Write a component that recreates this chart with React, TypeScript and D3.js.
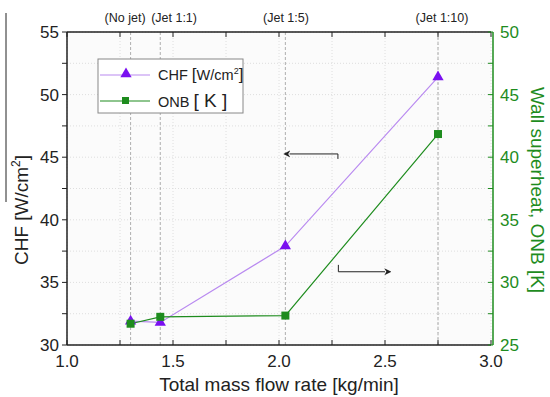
import React from 'react';
import * as d3 from 'd3';

// data
const flowRates = [1.3, 1.44, 2.03, 2.75];
const jetLabels = ['(No jet)', '(Jet 1:1)', '(Jet 1:5)', '(Jet 1:10)'];
const jetLabelPos = [1.274, 1.505, 2.033, 2.769];
const chfValues = [31.9, 31.8, 37.9, 51.4];
const onbValues = [26.7, 27.25, 27.35, 41.85];
const xTicks = [1.0, 1.5, 2.0, 2.5, 3.0];
const leftTicks = [30, 35, 40, 45, 50, 55];
const rightTicks = [25, 30, 35, 40, 45, 50];

const purpleLine = '#b98af0';
const purpleMark = '#7a10f0';
const green = '#1e8c1e';
const font = '"Liberation Sans", Arial, sans-serif';

export default function App() {
  const W = 550, H = 397;
  const m = { left: 67, right: 491, top: 32, bottom: 345 };

  const x = d3.scaleLinear().domain([1, 3]).range([m.left, m.right]);
  const yL = d3.scaleLinear().domain([30, 55]).range([m.bottom, m.top]);
  const yR = d3.scaleLinear().domain([25, 50]).range([m.bottom, m.top]);

  const minorX = d3.range(1, 3.001, 0.25);
  const minorY = d3.range(30, 55.001, 2.5);
  const minorYR = d3.range(25, 50.001, 2.5);

  const chfLine = d3.line<number>().x((d, i) => x(flowRates[i])).y(d => yL(d))(chfValues);
  const onbLine = d3.line<number>().x((d, i) => x(flowRates[i])).y(d => yR(d))(onbValues);
  const tri = d3.symbol().type(d3.symbolTriangle).size(55)();

  return (
    <svg width={W} height={H} style={{ position: 'absolute', left: 0, top: 0, background: '#fff' }} fontFamily={font}>
      <defs>
        <marker id="ah" viewBox="0 0 10 10" refX="1" refY="5" markerWidth="7" markerHeight="7" orient="auto">
          <path d="M0,5 L10,0 L7,5 L10,10 Z" fill="#222" transform="rotate(180 5 5)" />
        </marker>
      </defs>
      <rect x={m.left} y={m.top} width={m.right - m.left} height={m.bottom - m.top} fill="#fbfbfb" />
      {/* grid */}
      {minorX.map(v => (
        <line key={'gx' + v} x1={x(v)} x2={x(v)} y1={m.top} y2={m.bottom} stroke="#dedede" strokeDasharray="1,2" />
      ))}
      {minorY.map(v => (
        <line key={'gy' + v} x1={m.left} x2={m.right} y1={yL(v)} y2={yL(v)} stroke="#dedede" strokeDasharray="1,2" />
      ))}
      {/* jet markers */}
      {flowRates.map(v => (
        <line key={'j' + v} x1={x(v)} x2={x(v)} y1={m.top} y2={m.bottom} stroke="#9a9a9a" strokeDasharray="3,2" strokeWidth={0.8} />
      ))}
      {jetLabels.map((t, i) => (
        <text key={t} x={x(jetLabelPos[i])} y={22} fontSize={12.5} textAnchor="middle" fill="#222">{t}</text>
      ))}
      {/* series */}
      <path d={chfLine || ''} fill="none" stroke={purpleLine} strokeWidth={1.2} />
      <path d={onbLine || ''} fill="none" stroke={green} strokeWidth={1.2} />
      {chfValues.map((v, i) => (
        <path key={'c' + i} d={tri || ''} transform={`translate(${x(flowRates[i])},${yL(v)})`} fill={purpleMark} />
      ))}
      {onbValues.map((v, i) => (
        <rect key={'o' + i} x={x(flowRates[i]) - 4} y={yR(v) - 4} width={8} height={8} fill={green} />
      ))}
      {/* annotation arrows */}
      <path d={`M${x(2.278)},${yL(44.86)} V${yL(45.26)} H${x(2.05)}`} fill="none" stroke="#222" strokeWidth={1} markerEnd="url(#ah)" />
      <path d={`M${x(2.28)},${yL(36.4)} V${yL(35.85)} H${x(2.5)}`} fill="none" stroke="#222" strokeWidth={1} markerEnd="url(#ah)" />
      {/* frame */}
      <line x1={m.left} x2={m.right} y1={m.top} y2={m.top} stroke="#222" strokeWidth={1.5} />
      <line x1={m.left} x2={m.right} y1={m.bottom} y2={m.bottom} stroke="#222" strokeWidth={1.5} />
      <line x1={m.left} x2={m.left} y1={m.top} y2={m.bottom} stroke="#222" strokeWidth={1.5} />
      <line x1={m.right + 2} x2={m.right + 2} y1={m.top} y2={m.bottom} stroke={green} strokeWidth={1.5} />
      {minorX.map(v => (
        <g key={'tx' + v}>
          <line x1={x(v)} x2={x(v)} y1={m.bottom} y2={m.bottom - 5} stroke="#222" />
          <line x1={x(v)} x2={x(v)} y1={m.top} y2={m.top + 5} stroke="#222" />
        </g>
      ))}
      {minorY.map(v => (
        <line key={'ty' + v} x1={m.left} x2={m.left - 5} y1={yL(v)} y2={yL(v)} stroke="#222" />
      ))}
      {minorYR.map(v => (
        <line key={'tr' + v} x1={m.right + 2} x2={m.right - 3} y1={yR(v)} y2={yR(v)} stroke={green} />
      ))}
      {/* tick labels */}
      {xTicks.map(v => (
        <text key={'lx' + v} x={x(v)} y={367} fontSize={17} textAnchor="middle" fill="#222">{v.toFixed(1)}</text>
      ))}
      {leftTicks.map(v => (
        <text key={'ll' + v} x={m.left - 8} y={yL(v) + 6} fontSize={17} textAnchor="end" fill="#222">{v}</text>
      ))}
      {rightTicks.map(v => (
        <text key={'lr' + v} x={m.right + 9} y={yR(v) + 6} fontSize={17} textAnchor="start" fill={green}>{v}</text>
      ))}
      {/* axis titles */}
      <text x={279} y={391} fontSize={19} textAnchor="middle" fill="#222">Total mass flow rate [kg/min]</text>
      <text transform={`translate(28,210) rotate(-90)`} fontSize={19} textAnchor="middle" fill="#222">
        CHF [W/cm<tspan dy={-8} fontSize={12}>2</tspan><tspan dy={8}>]</tspan>
      </text>
      <line x1={6} x2={6} y1={13} y2={202} stroke="#222" strokeWidth={1} />
      <text transform={`translate(531,190) rotate(90)`} fontSize={19} textAnchor="middle" fill={green}>Wall superheat, ONB [K]</text>
      {/* legend */}
      <rect x={98} y={59} width={145} height={54} fill="#fff" stroke="#888" strokeWidth={1} />
      <line x1={100} x2={150} y1={75} y2={75} stroke={purpleLine} strokeWidth={1.2} />
      <path d={tri || ''} transform="translate(126,74)" fill={purpleMark} />
      <text x={158} y={80} fontSize={14.5} fill="#222">
        CHF <tspan fontSize={17}>[</tspan>W/cm<tspan dy={-6} fontSize={9}>2</tspan><tspan dy={6} fontSize={17}>]</tspan>
      </text>
      <line x1={100} x2={150} y1={101} y2={101} stroke={green} strokeWidth={1.2} />
      <rect x={122} y={97} width={7} height={7} fill={green} />
      <text x={158} y={107} fontSize={14.5} fill="#222">
        ONB <tspan fontSize={19}>[ K ]</tspan>
      </text>
    </svg>
  );
}
